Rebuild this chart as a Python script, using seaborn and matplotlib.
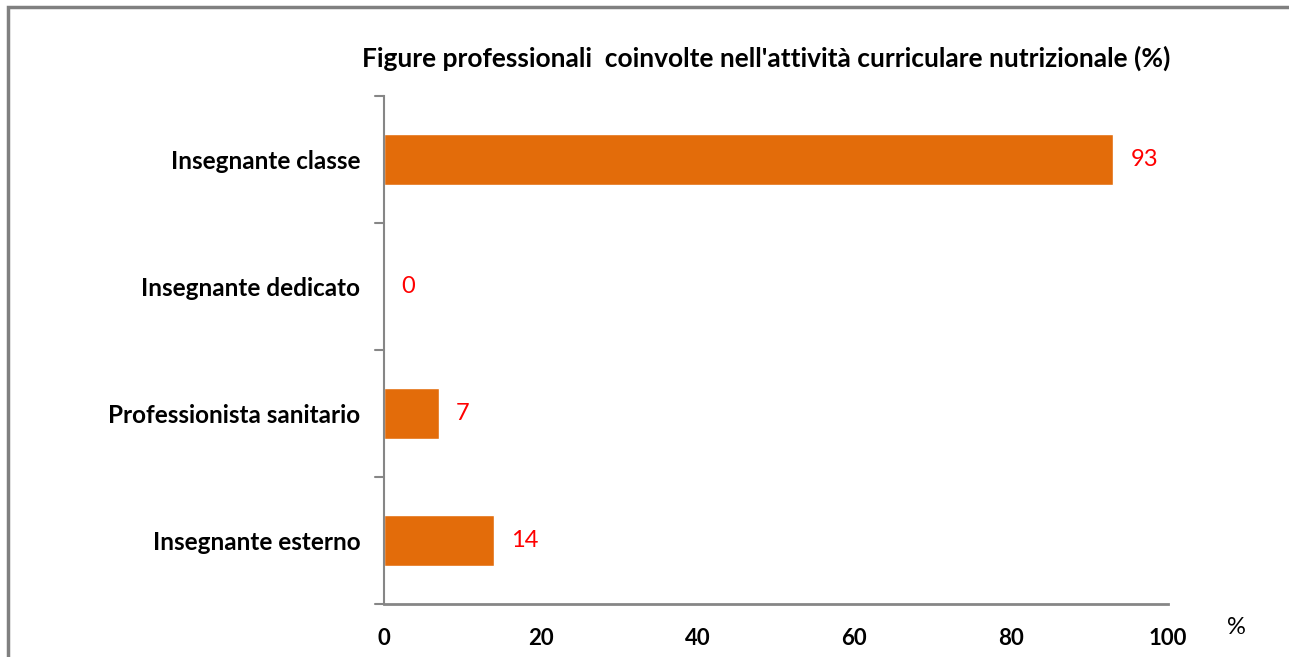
import matplotlib
matplotlib.use("Agg")
import matplotlib.pyplot as plt
import seaborn as sns
import pandas as pd
from matplotlib.patches import Rectangle

categories = ["Insegnante classe", "Insegnante dedicato", "Professionista sanitario", "Insegnante esterno"]
values = [93, 0, 7, 14]
xticks = [0, 20, 40, 60, 80, 100]
title = "Figure professionali  coinvolte nell'attività curriculare nutrizionale (%)"

sns.set_theme(style="white")
plt.rcParams['font.family'] = ['Lato', 'DejaVu Sans']
plt.rcParams['text.color'] = 'black'
plt.rcParams['xtick.color'] = 'black'
plt.rcParams['ytick.color'] = 'black'

df = pd.DataFrame({"cat": categories, "val": values})

fig = plt.figure(figsize=(12.89, 6.57), dpi=100)
W, H = 1289, 657
ax = fig.add_axes([384 / W, 1 - 604 / H, (1168 - 384) / W, (604 - 96) / H])

sns.barplot(data=df, x="val", y="cat", color="#E36C0A", saturation=1, width=0.4, ax=ax, orient="h")

ax.set_xlim(0, 100)
ax.set_ylim(3.5, -0.5)
ax.set_xlabel("")
ax.set_ylabel("")
ax.set_xticks(xticks)
ax.set_xticklabels([str(t) for t in xticks], fontsize=16, fontweight="bold", color="black")
ax.set_yticks(range(len(categories)))
ax.set_yticklabels(categories, fontsize=17.5, fontweight="bold", color="black")
ax.tick_params(axis="y", length=0, pad=17)
ax.tick_params(axis="x", length=8, width=1, color="#868686", direction="out", pad=9)

# category boundary ticks
for b in [-0.5, 0.5, 1.5, 2.5, 3.5]:
    ax.plot([-0.011, 0], [b, b], color="#868686", lw=1.5, transform=ax.get_yaxis_transform(), clip_on=False)

for s in ["top", "right"]:
    ax.spines[s].set_visible(False)
ax.spines["left"].set_color("#868686")
ax.spines["left"].set_linewidth(1.5)
ax.spines["bottom"].set_color("#868686")
ax.spines["bottom"].set_linewidth(2)

for i, v in enumerate(values):
    ax.text(v + 2.2, i, str(v), color="#FF0000", fontsize=17, va="center", ha="left")

fig.text(766 / W, 1 - 58 / H, title, ha="center", va="center", fontsize=19, fontweight="bold", color="black")
fig.text(1236 / W, 1 - 628 / H, "%", ha="center", va="center", fontsize=17, color="black")

fig.patches.append(Rectangle((8 / W, -0.05), 1.1, 1 - 7 / H + 0.05, transform=fig.transFigure,
                             fill=False, edgecolor="#808080", lw=2.5))

fig.savefig("out.png", dpi=100, facecolor="white")
